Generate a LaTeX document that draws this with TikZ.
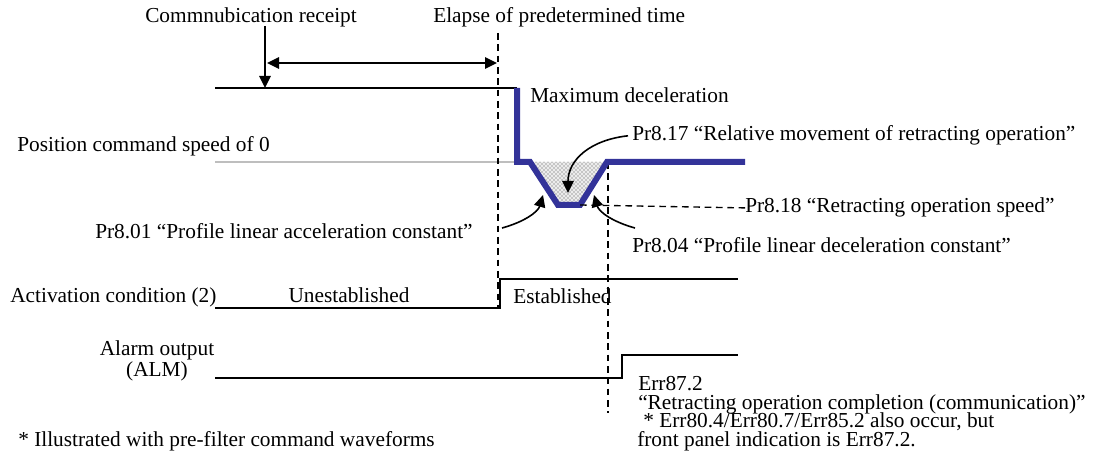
\documentclass[tikz,border=0pt]{standalone}
\usepackage{fontspec}
\setmainfont{Liberation Serif}
\usetikzlibrary{positioning,arrows.meta,patterns}
\definecolor{wavblue}{RGB}{51,51,153}
\definecolor{zerogray}{RGB}{190,190,190}

\begin{document}
\begin{tikzpicture}[x=0.75pt,y=-0.75pt,
  lbl/.style={inner sep=0pt,font=\fontsize{16}{19}\selectfont,anchor=base west},
  sig/.style={line width=1.2pt,color=black},
  guide/.style={line width=1pt,dash pattern=on 5pt off 3.5pt},
  arrow/.style={-{Triangle[length=9pt,width=8.5pt]},line width=1.2pt},
  both/.style={{Triangle[length=9pt,width=8.5pt]}-{Triangle[length=9pt,width=8.5pt]},line width=1.2pt},
  wave/.style={line width=4.5pt,color=wavblue,line join=miter}
]
\useasboundingbox (0,0) rectangle (1098,466);

% key points of the waveforms
\coordinate (cmdL) at (215,88);
\coordinate (cmdR) at (517,88);
\coordinate (zeroL) at (215,162);
\coordinate (zeroR) at (517,162);
\coordinate (d1) at (530,162);
\coordinate (d2) at (558,205);
\coordinate (d3) at (580,205);
\coordinate (d4) at (607,162);
\coordinate (waveEnd) at (745,162);

% stippled area
\fill[gray!15] (d1) -- (d2) -- (d3) -- (d4) -- cycle;
\fill[pattern=crosshatch dots,pattern color=black!70] (d1) -- (d2) -- (d3) -- (d4) -- cycle;
\draw[zerogray,line width=1.2pt] (zeroL) -- (zeroR);

% guide lines
\coordinate (elapseTop) at (498,33);
\coordinate (elapseBot) at (498,308);
\coordinate (retTop) at (608,162);
\coordinate (retBot) at (608,413);
\draw[guide] (elapseTop) -- (elapseBot);
\draw[guide] (retTop) -- (retBot);

% signals
\draw[sig] (cmdL) -- (cmdR);
\draw[sig] (215,308) -- (500,308) -- (500,279) -- (738,279);
\draw[sig] (215,378) -- (622,378) -- (622,355) -- (738,355);
\draw[wave] (cmdR) -- (zeroR) -- (d1) -- (d2) -- (d3) -- (d4) -- (waveEnd);

% labels
\node[lbl] (rcpt) at (145,23) {Commnubication receipt};
\node[lbl] (elapse) at (433,23) {Elapse of predetermined time};
\node[lbl] (maxdec) at (530,103) {Maximum deceleration};
\node[lbl] (p817) at (632,141) {Pr8.17 “Relative movement of retracting operation”};
\node[lbl] (zero) at (17,152) {Position command speed of 0};
\node[lbl] (p818) at (745,213) {Pr8.18 “Retracting operation speed”};
\node[lbl] (p801) at (95,239) {Pr8.01 “Profile linear acceleration constant”};
\node[lbl] (p804) at (632,253) {Pr8.04 “Profile linear deceleration constant”};
\node[lbl] (act) at (10,303) {Activation condition (2)};
\node[lbl,anchor=base] (unest) at (349,302) {Unestablished};
\node[lbl] (est) at (513,304) {Established};
\node[lbl,anchor=base] (alm) at (157,355) {Alarm output};
\node[lbl,anchor=base] (almb) at (157,376) {(ALM)};
\node[lbl] (err) at (638,390) {Err87.2};
\node[lbl] (errb) at (638,409) {“Retracting operation completion (communication)”};
\node[lbl] (errc) at (643,427) {* Err80.4/Err80.7/Err85.2 also occur, but};
\node[lbl] (errd) at (637,446) {front panel indication is Err87.2.};
\node[lbl] (note) at (18,446) {* Illustrated with pre-filter command waveforms};

% arrows
\coordinate (rcptPt) at (265,26);
\coordinate (rcptTip) at (265,88);
\coordinate (spanL) at (267,63);
\coordinate (spanR) at (497,63);
\draw[arrow] (rcptPt) -- (rcptTip);
\draw[both] (spanL) -- (spanR);
\draw[guide] (d3) -- (p818.west);
\coordinate (p817Tip) at (568,193);
\coordinate (p801Tail) at (502,228);
\coordinate (p801Tip) at (543,195);
\coordinate (p804Tail) at (635,228);
\coordinate (p804Tip) at (594,195);
\draw[arrow] ([xshift=-3pt]p817.west) .. controls (590,140) and (568,160) .. (p817Tip);
\draw[arrow] (p801Tail) .. controls (524,222) and (538,212) .. (p801Tip);
\draw[arrow] (p804Tail) .. controls (613,222) and (599,212) .. (p804Tip);
\end{tikzpicture}
\end{document}
